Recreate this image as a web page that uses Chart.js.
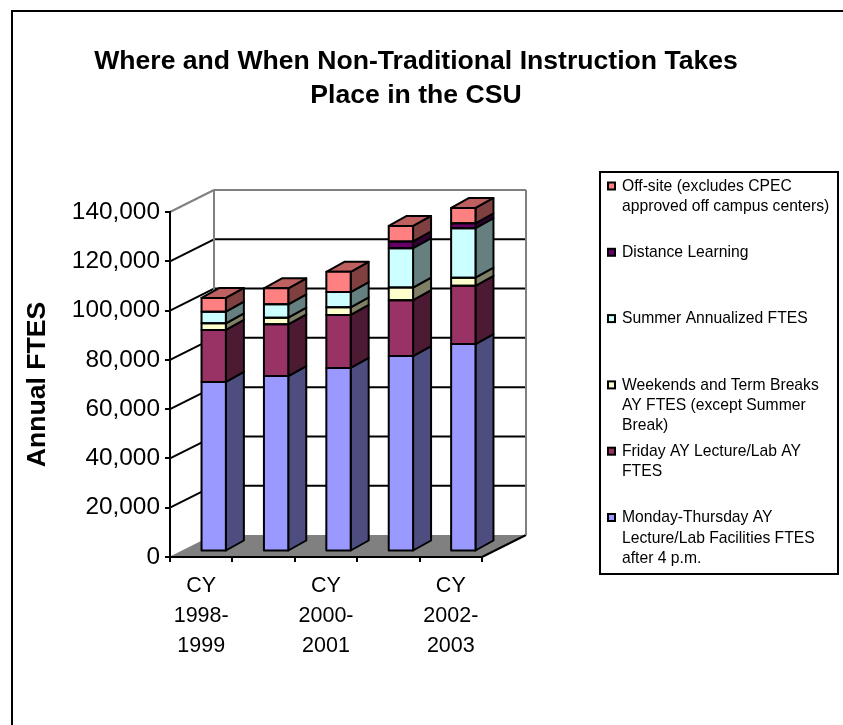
<!DOCTYPE html>
<html>
<head>
<meta charset="utf-8">
<title>Non-Traditional Instruction</title>
<script src="https://cdn.jsdelivr.net/npm/chart.js@4"></script>
<style>
  html, body { margin: 0; padding: 0; background: #fff; overflow: hidden; }
  #wrap { position: relative; width: 843px; height: 725px; overflow: hidden; }
  #frame { position: absolute; left: 11px; top: 10px; width: 840px; height: 720px; border: 2px solid #000; }
  canvas { position: absolute; left: 0; top: 0; }
</style>
</head>
<body>
<div id="wrap">
  <canvas id="chart" width="843" height="725"></canvas>
  <div id="frame"></div>
</div>
<script>
const categories = [
  ['CY', '1998-', '1999'],
  ['CY', '1999-', '2000'],
  ['CY', '2000-', '2001'],
  ['CY', '2001-', '2002'],
  ['CY', '2002-', '2003']
];

// values, annual FTES
const mondayThursday = [68800, 71200, 74500, 79300, 84200];
const friday = [21100, 21000, 21500, 22700, 23600];
const weekends = [2700, 2700, 3100, 5100, 3300];
const summer = [4700, 5400, 6200, 16000, 20100];
const distance = [0, 0, 0, 2700, 2000];
const offSite = [5600, 6500, 8200, 6300, 6200];

const seriesNames = [
  'Monday-Thursday AY Lecture/Lab Facilities FTES after 4 p.m.',
  'Friday AY Lecture/Lab AY FTES',
  'Weekends and Term Breaks AY FTES (except Summer Break)',
  'Summer Annualized FTES',
  'Distance Learning',
  'Off-site (excludes CPEC approved off campus centers)'
];
const seriesValues = [mondayThursday, friday, weekends, summer, distance, offSite];

// wrapped the way the legend box wraps them, top entry first
const legendLines = [
  ['Off-site (excludes CPEC', 'approved off campus centers)'],
  ['Distance Learning'],
  ['Summer Annualized FTES'],
  ['Weekends and Term Breaks', 'AY FTES (except Summer', 'Break)'],
  ['Friday AY Lecture/Lab AY', 'FTES'],
  ['Monday-Thursday AY', 'Lecture/Lab Facilities FTES', 'after 4 p.m.']
];

const fronts = ['#9999FF', '#993366', '#FFFFCC', '#CCFFFF', '#660066', '#FF8080'];
const sides = ['#4D4D80', '#4D1A33', '#808066', '#668080', '#330033', '#804040'];
const offSiteTop = '#BF6060';

const FONT = '"Liberation Sans", Arial, sans-serif';
const LINE = 2;

// 3d look: back wall offset and how far the bars sit from the front plane
const wall = { dx: 44, dy: -22 };
const bar = { dx: 12.5, dy: -5.5, depthX: 18, depthY: -10 };

function poly(ctx, pts, fill, stroke, width) {
  ctx.beginPath();
  pts.forEach((p, i) => i ? ctx.lineTo(p[0], p[1]) : ctx.moveTo(p[0], p[1]));
  ctx.closePath();
  if (fill) { ctx.fillStyle = fill; ctx.fill(); }
  if (stroke) { ctx.strokeStyle = stroke; ctx.lineWidth = width; ctx.stroke(); }
}

function seg(ctx, x1, y1, x2, y2, color, width) {
  ctx.beginPath();
  ctx.moveTo(x1, y1);
  ctx.lineTo(x2, y2);
  ctx.strokeStyle = color;
  ctx.lineWidth = width;
  ctx.stroke();
}

function eachBar(chart, fn) {
  chart.data.datasets.forEach((ds, d) => {
    chart.getDatasetMeta(d).data.forEach(el => {
      const p = el.getProps(['x', 'y', 'base', 'width'], true);
      if (Math.abs(p.base - p.y) < 0.5) return;
      fn(p, d, p.x - p.width / 2, p.x + p.width / 2);
    });
  });
}

const threeD = {
  id: 'threeD',
  afterLayout(chart) {
    // title is centred over the whole plot + legend, not the chart area
    chart.titleBlock.left = 0;
    chart.titleBlock.right = 832;
  },
  beforeDraw(chart) {
    const { ctx, chartArea: a, scales: { y } } = chart;
    const { dx, dy } = wall;
    ctx.save();
    // floor
    const y0 = y.getPixelForValue(0);
    poly(ctx, [[a.left, y0], [a.right, y0], [a.right + dx, y0 + dy], [a.left + dx, y0 + dy]], '#808080');
    seg(ctx, a.left, y0, a.left + dx, y0 + dy, '#808080', 1);
    seg(ctx, a.right, y0, a.right + dx, y0 + dy, '#000', LINE);
    // gridlines across side wall and back wall
    y.ticks.forEach(t => {
      if (t.value === 0) return;
      const py = y.getPixelForValue(t.value);
      const c = t.value === y.max ? '#808080' : '#000';
      seg(ctx, a.left, py, a.left + dx, py + dy, c, LINE);
      seg(ctx, a.left + dx, py + dy, a.right + dx, py + dy, c, LINE);
    });
    const top = y.getPixelForValue(y.max) + dy;
    seg(ctx, a.left + dx, top, a.left + dx, y0 + dy, '#808080', LINE);
    seg(ctx, a.right + dx, top, a.right + dx, y0 + dy, '#808080', LINE);
    ctx.restore();
  },
  beforeDatasetsDraw(chart) {
    const { ctx } = chart;
    ctx.save();
    ctx.translate(bar.dx, bar.dy);
    ctx.lineJoin = 'round';
    const last = chart.data.datasets.length - 1;
    eachBar(chart, (p, d, l, r) => {
      poly(ctx, [[r, p.y], [r + bar.depthX, p.y + bar.depthY], [r + bar.depthX, p.base + bar.depthY], [r, p.base]],
        sides[d], '#000', LINE);
      if (d === last) {
        poly(ctx, [[l, p.y], [r, p.y], [r + bar.depthX, p.y + bar.depthY], [l + bar.depthX, p.y + bar.depthY]],
          offSiteTop, '#000', LINE);
      }
    });
  },
  afterDatasetsDraw(chart) {
    const { ctx } = chart;
    // one outline per segment so shared edges stay a single line
    eachBar(chart, (p, d, l, r) => {
      poly(ctx, [[l, p.y], [r, p.y], [r, p.base], [l, p.base]], null, '#000', LINE);
    });
    ctx.restore();
  },
  afterDraw(chart) {
    const { ctx } = chart;
    ctx.save();
    // legend box
    ctx.strokeStyle = '#000';
    ctx.lineWidth = LINE;
    ctx.strokeRect(600, 172, 238, 402);
    ctx.font = '15.7px ' + FONT;
    ctx.textBaseline = 'middle';
    ctx.textAlign = 'left';
    legendLines.forEach((lines, i) => {
      const ly = 186.5 + i * 66.3;
      ctx.fillStyle = fronts[fronts.length - 1 - i];
      ctx.fillRect(608, ly - 4, 7, 7);
      ctx.strokeRect(608, ly - 4, 7, 7);
      ctx.fillStyle = '#000';
      lines.forEach((t, k) => ctx.fillText(t, 622, ly + k * 20.2));
    });
    ctx.restore();
  }
};

new Chart(document.getElementById('chart'), {
  type: 'bar',
  data: {
    labels: categories,
    datasets: seriesValues.map((vals, i) => ({
      label: seriesNames[i],
      data: vals,
      backgroundColor: fronts[i],
      borderWidth: 0,
      categoryPercentage: 1,
      barPercentage: 0.39
    }))
  },
  plugins: [threeD],
  options: {
    responsive: false,
    animation: false,
    layout: { autoPadding: false, padding: { left: 0, right: 361, top: 0, bottom: 0 } },
    plugins: {
      legend: { display: false },
      tooltip: { enabled: false },
      title: {
        display: true,
        text: ['Where and When Non-Traditional Instruction Takes', 'Place in the CSU'],
        color: '#000',
        font: { family: FONT, size: 26.6, weight: 'bold', lineHeight: 34 / 26.6 },
        padding: { top: 45, bottom: 99 }
      }
    },
    scales: {
      x: {
        stacked: true,
        afterFit(s) { s.height = 168; },
        grid: { offset: true, drawOnChartArea: false, color: '#000', lineWidth: LINE, tickLength: 5 },
        border: { color: '#000', width: LINE },
        ticks: {
          autoSkip: false,
          maxRotation: 0,
          color: '#000',
          padding: 9,
          font: { family: FONT, size: 21.5, lineHeight: 30 / 21.5 },
          callback(v, i) { return i % 2 ? '' : this.getLabelForValue(v); }
        }
      },
      y: {
        stacked: true,
        min: 0,
        max: 140000,
        afterFit(s) { s.width = 170; },
        grid: { drawOnChartArea: false, color: '#000', lineWidth: LINE, tickLength: 5 },
        border: { color: '#000', width: LINE },
        ticks: {
          stepSize: 20000,
          color: '#000',
          padding: 5,
          font: { family: FONT, size: 24.4 }
        },
        title: {
          display: true,
          text: 'Annual FTES',
          color: '#000',
          font: { family: FONT, size: 26.6, weight: 'bold' },
          padding: { top: 22, bottom: 0 }
        }
      }
    }
  }
});
</script>
</body>
</html>
